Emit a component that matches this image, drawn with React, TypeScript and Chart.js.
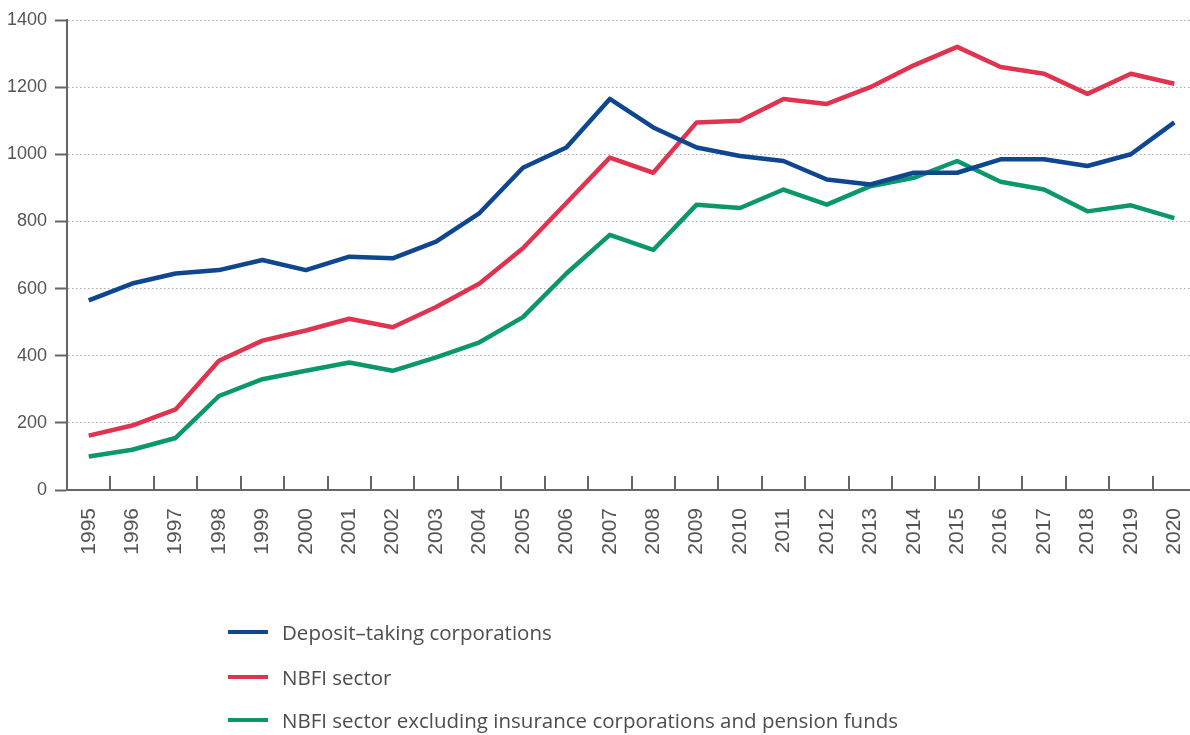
import React, { useEffect, useRef } from "react";
import { Chart, registerables } from "chart.js";

Chart.register(...registerables);

const years = ["1995","1996","1997","1998","1999","2000","2001","2002","2003","2004","2005","2006","2007","2008","2009","2010","2011","2012","2013","2014","2015","2016","2017","2018","2019","2020"];
const depositTaking = [565,615,645,655,685,655,695,690,740,825,960,1020,1165,1080,1020,995,980,925,910,945,945,985,985,965,1000,1095];
const nbfiSector = [162,192,240,385,445,475,510,485,545,615,720,855,990,945,1095,1100,1165,1150,1200,1265,1320,1260,1240,1180,1240,1210];
const nbfiExcl = [100,120,155,280,330,355,380,355,395,440,515,645,760,715,850,840,895,850,905,930,980,918,895,830,848,810];
const seriesLabels = ["Deposit\u2013taking corporations","NBFI sector","NBFI sector excluding insurance corporations and pension funds"];
const seriesColors = ["#0f4690","#e0334f","#0b976c"];

const innerTicks = {
  id: "innerTicks",
  afterDraw(chart: any) {
    const { ctx, scales, chartArea } = chart;
    const x = scales.x;
    ctx.save();
    ctx.strokeStyle = "#666";
    ctx.lineWidth = 2;
    for (let i = 1; i < years.length; i++) {
      const px = Math.round((x.getPixelForValue(i - 1) + x.getPixelForValue(i)) / 2);
      ctx.beginPath();
      ctx.moveTo(px, chartArea.bottom);
      ctx.lineTo(px, chartArea.bottom - 14);
      ctx.stroke();
    }
    ctx.restore();
  },
};

export default function App() {
  const ref = useRef<HTMLCanvasElement>(null);
  useEffect(() => {
    document.body.style.margin = "0";
    const data = [depositTaking, nbfiSector, nbfiExcl];
    const chart = new Chart(ref.current!, {
      type: "line",
      data: {
        labels: years,
        datasets: data.map((d, i) => ({
          label: seriesLabels[i],
          data: d,
          borderColor: seriesColors[i],
          backgroundColor: seriesColors[i],
          borderWidth: 4.5,
          pointRadius: 0,
          tension: 0,
          borderJoinStyle: "round" as const,
        })),
      },
      options: {
        responsive: false,
        animation: false,
        devicePixelRatio: 1,
        layout: { padding: { top: 20, left: 0, right: 0, bottom: 0 } },
        plugins: { legend: { display: false }, tooltip: { enabled: false } },
        scales: {
          x: {
            offset: true,
            grid: { display: true, drawOnChartArea: false, drawTicks: false, offset: true },
            border: { display: true, color: "#666", width: 2 },
            ticks: {
              autoSkip: false,
              minRotation: 90,
              maxRotation: 90,
              padding: 18,
              color: "#555",
              font: { family: "'Liberation Sans', Arial, sans-serif", size: 21 },
            },
            afterFit(scale: any) {
              scale.height = 245;
              scale.paddingLeft = 0;
              scale.paddingRight = 0;
            },
          },
          y: {
            min: 0,
            max: 1400,
            ticks: {
              stepSize: 200,
              padding: 8,
              color: "#555",
              font: { family: "'Liberation Sans', Arial, sans-serif", size: 18 },
              callback: (v: any) => String(v),
            },
            grid: { color: "#aaa", lineWidth: 1, tickColor: "#666", tickWidth: 2, tickLength: 12 },
            border: { display: true, color: "#666", width: 2, dash: [1.5, 2.5] },
            afterFit(scale: any) { scale.width = 67; },
          },
        },
      },
      plugins: [innerTicks],
    });
    return () => chart.destroy();
  }, []);

  const rowTops = [632, 677, 720];
  return (
    <div style={{ position: "relative", width: 1190, height: 735, overflow: "hidden", background: "#fff" }}>
      <canvas ref={ref} width={1196} height={735} style={{ display: "block", width: 1196, height: 735 }} />
      {seriesLabels.map((l, i) => (
        <div key={l} style={{ position: "absolute", left: 228, top: rowTops[i] - 15, height: 30, display: "flex", alignItems: "center", fontFamily: "'Open Sans', sans-serif", fontSize: 20.5, color: "#4d4d4d", whiteSpace: "nowrap" }}>
          <span style={{ display: "inline-block", width: 40, height: 4, background: seriesColors[i], marginRight: 14 }} />
          <span>{l}</span>
        </div>
      ))}
    </div>
  );
}
